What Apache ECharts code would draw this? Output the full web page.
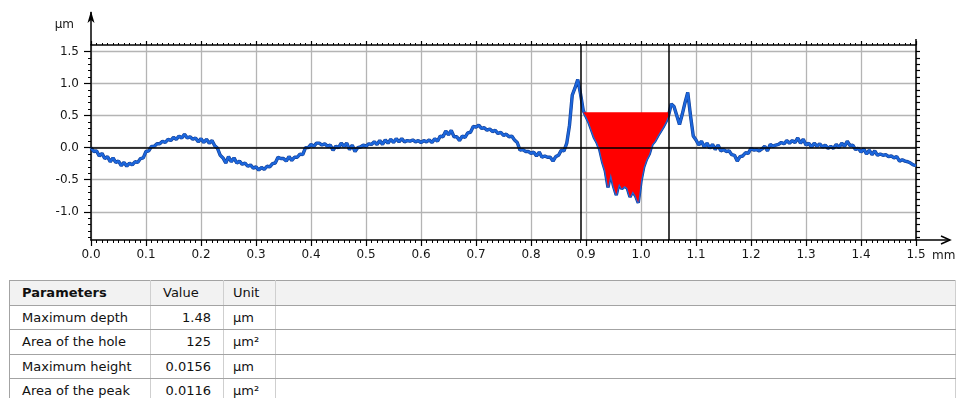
<!DOCTYPE html>
<html>
<head>
<meta charset="utf-8">
<script src="https://cdn.jsdelivr.net/npm/echarts@6/dist/echarts.min.js"></script>
<style>
  html, body { margin: 0; padding: 0; background: #fff; }
  body { width: 956px; height: 398px; overflow: hidden; position: relative; font-family: "DejaVu Sans", sans-serif; }
  #chart { position: absolute; left: 0; top: 0; width: 956px; height: 276px; }
  #params { position: absolute; left: 9px; top: 280px; width: 947px; border-collapse: collapse; table-layout: fixed; font-size: 13px; color: #111; }
  #params th, #params td { height: 23.5px; padding: 0; border-top: 1px solid #a3a3a3; border-bottom: 1px solid #a3a3a3; border-left: 1px solid #cfcfcf; border-right: 1px solid #cfcfcf; white-space: nowrap; }
  #params th { background: #f2f2f2; font-weight: normal; text-align: left; }
  #params th.name { font-weight: bold; padding-left: 12px; }
  #params th.val { padding-left: 12px; }
  #params th.unit { padding-left: 9px; }
  #params td.name { padding-left: 12px; }
  #params td.val { text-align: right; padding-right: 12px; }
  #params td.unit { padding-left: 9px; }
  #params tr > :first-child { border-left: 1px solid #a3a3a3; }
</style>
</head>
<body>
<div id="chart"></div>
<table id="params"><colgroup><col style="width:141px"><col style="width:73px"><col style="width:52px"><col></colgroup><thead></thead><tbody></tbody></table>
<script>
// Surface profile sampled every 5 µm along the trace (x in mm, height in µm)
const sampleStep = 0.005;
const depthProfile = [
  0.00, -0.06, -0.05, -0.13, -0.09, -0.17, -0.14, -0.22, -0.16, -0.23,
  -0.21, -0.28, -0.23, -0.29, -0.24, -0.27, -0.22, -0.23, -0.17, -0.16,
  -0.06, -0.05, 0.02, 0.02, 0.06, 0.06, 0.10, 0.08, 0.13, 0.11,
  0.16, 0.13, 0.18, 0.15, 0.21, 0.15, 0.17, 0.13, 0.15, 0.09,
  0.14, 0.08, 0.13, 0.07, 0.11, 0.03, -0.01, -0.12, -0.16, -0.24,
  -0.14, -0.22, -0.16, -0.24, -0.21, -0.26, -0.24, -0.29, -0.27, -0.32,
  -0.30, -0.35, -0.31, -0.34, -0.29, -0.30, -0.25, -0.24, -0.15, -0.17,
  -0.17, -0.21, -0.14, -0.20, -0.15, -0.15, -0.10, -0.11, 0.00, 0.00,
  0.05, 0.02, 0.07, 0.07, 0.04, 0.06, 0.02, 0.04, -0.04, 0.02,
  0.00, 0.07, 0.02, 0.07, -0.03, 0.04, -0.06, 0.00, 0.01, 0.04,
  0.02, 0.06, 0.05, 0.09, 0.05, 0.11, 0.05, 0.12, 0.07, 0.13,
  0.08, 0.14, 0.09, 0.14, 0.09, 0.11, 0.10, 0.12, 0.09, 0.11,
  0.08, 0.11, 0.09, 0.12, 0.08, 0.14, 0.10, 0.18, 0.17, 0.26,
  0.20, 0.27, 0.17, 0.17, 0.11, 0.18, 0.16, 0.23, 0.24, 0.33,
  0.32, 0.35, 0.30, 0.31, 0.27, 0.29, 0.25, 0.27, 0.22, 0.24,
  0.19, 0.21, 0.17, 0.18, 0.12, 0.08, -0.04, -0.03, -0.06, -0.06,
  -0.09, -0.07, -0.13, -0.07, -0.15, -0.13, -0.15, -0.15, -0.21, -0.14,
  -0.12, -0.04, -0.05, 0.07, 0.35, 0.82, 0.93, 1.06, 0.84, 0.58,
  0.49, 0.40, 0.28, 0.16, 0.08, -0.03, -0.22, -0.36, -0.62, -0.40,
  -0.60, -0.74, -0.56, -0.64, -0.60, -0.63, -0.77, -0.68, -0.75, -0.86,
  -0.52, -0.30, -0.18, -0.10, 0.05, 0.10, 0.18, 0.25, 0.32, 0.40,
  0.50, 0.68, 0.64, 0.50, 0.36, 0.52, 0.70, 0.86, 0.50, 0.18,
  0.12, 0.04, 0.10, 0.01, 0.07, -0.01, 0.05, -0.03, 0.04, -0.05,
  -0.03, -0.06, -0.05, -0.11, -0.12, -0.21, -0.14, -0.13, -0.08, -0.09,
  -0.01, -0.04, -0.03, -0.05, -0.02, 0.02, -0.05, 0.05, 0.02, 0.04,
  0.05, 0.08, 0.06, 0.11, 0.07, 0.11, 0.08, 0.15, 0.07, 0.13,
  0.04, 0.07, 0.01, 0.07, 0.02, 0.06, 0.01, 0.04, -0.01, 0.02,
  -0.01, 0.05, 0.00, 0.07, 0.02, 0.10, 0.03, 0.04, -0.03, -0.01,
  -0.07, -0.02, -0.10, -0.04, -0.11, -0.05, -0.12, -0.10, -0.12, -0.11,
  -0.14, -0.13, -0.16, -0.14, -0.21, -0.19, -0.21, -0.22, -0.24, -0.27,
  -0.28
];

// Axis ranges and tick values
const xRange = [0, 1.5];
const xTickStep = 0.1;
const yRange = [-1.44, 1.6];
const yLabelValues = [-1.0, -0.5, 0.0, 0.5, 1.0, 1.5];
const yMinorValues = [-1.4, -1.3, -1.2, -1.1, -1.0, -0.9, -0.8, -0.7, -0.6, -0.5, -0.4, -0.3, -0.2, -0.1, 0.0,
  0.1, 0.2, 0.3, 0.4, 0.5, 0.6, 0.7, 0.8, 0.9, 1.0, 1.1, 1.2, 1.3, 1.4, 1.5];

// Measurement cursors and the reference level that bounds the hole
const cursorPositions = [0.893, 1.051];
const holeLevel = 0.55;

// Parameters table
const paramHeaders = ['Parameters', 'Value', 'Unit', ''];
const paramNames = ['Maximum depth', 'Area of the hole', 'Maximum height', 'Area of the peak'];
const paramValues = ['1.48', '125', '0.0156', '0.0116'];
const paramUnits = ['µm', 'µm²', 'µm', 'µm²'];

const profilePoints = depthProfile.map((v, i) => [+(i * sampleStep).toFixed(3), v]);
const inHole = p => p[0] >= cursorPositions[0] && p[0] <= cursorPositions[1];
const holeBase = profilePoints.filter(inHole).map(p => [p[0], Math.min(p[1], holeLevel)]);

const fontFamily = '"DejaVu Sans", sans-serif';
const labelColor = '#161616';
const gridColor = '#b4b4b4';

const chart = echarts.init(document.getElementById('chart'), null, { renderer: 'canvas' });

chart.setOption({
  animation: false,
  backgroundColor: '#fff',
  grid: { left: 91, right: 40, top: 45, bottom: 36 },
  xAxis: [
    {
      type: 'value', position: 'bottom', min: xRange[0], max: xRange[1], interval: xTickStep,
      axisLine: { show: true, onZero: false, lineStyle: { color: '#000', width: 1.5 } },
      axisTick: { show: true, length: 6, lineStyle: { color: '#000', width: 1.2 } },
      minorTick: { show: true, splitNumber: 10, length: 3, lineStyle: { color: '#000', width: 1 } },
      axisLabel: { margin: 9, color: labelColor, fontFamily, fontSize: 12, formatter: v => v.toFixed(1) },
      splitLine: { show: true, lineStyle: { color: gridColor, width: 1.3 } }
    },
    {
      type: 'value', position: 'top', min: xRange[0], max: xRange[1], interval: xTickStep,
      axisLine: { show: true, onZero: false, lineStyle: { color: '#000', width: 1.5 } },
      axisTick: { show: true, length: 4, lineStyle: { color: '#000', width: 1.2 } },
      minorTick: { show: true, splitNumber: 10, length: 2, lineStyle: { color: '#000', width: 1 } },
      axisLabel: { show: false },
      splitLine: { show: false }
    }
  ],
  yAxis: [
    {
      type: 'value', position: 'left', min: yRange[0], max: yRange[1],
      axisLine: { show: true, onZero: false, lineStyle: { color: '#000', width: 1.5 } },
      axisTick: { show: true, length: 7, customValues: yLabelValues, lineStyle: { color: '#000', width: 1.2 } },
      axisLabel: { margin: 12, color: labelColor, fontFamily, fontSize: 12, customValues: yLabelValues, formatter: v => v.toFixed(1) },
      splitLine: { show: true, lineStyle: { color: gridColor, width: 1.3 } }
    },
    {
      type: 'value', position: 'right', min: yRange[0], max: yRange[1],
      axisLine: { show: true, onZero: false, lineStyle: { color: '#000', width: 1.5 } },
      axisTick: { show: true, length: 4, customValues: yMinorValues, lineStyle: { color: '#000', width: 1.2 } },
      axisLabel: { show: false },
      splitLine: { show: false }
    },
    {
      type: 'value', position: 'left', offset: 0, min: yRange[0], max: yRange[1],
      axisLine: { show: false },
      axisTick: { show: true, length: 3, customValues: yMinorValues, lineStyle: { color: '#000', width: 1 } },
      axisLabel: { show: false },
      splitLine: { show: false }
    }
  ],
  series: [
    {
      // dark rim under the trace
      name: 'profile rim', type: 'line', data: profilePoints, symbol: 'none', z: 2, silent: true,
      lineStyle: { color: '#123f95', width: 3.4 }
    },
    {
      name: 'profile', type: 'line', data: profilePoints, symbol: 'none', z: 3,
      lineStyle: { color: '#1c66dc', width: 2.2 },
      markLine: {
        silent: true, symbol: 'none', label: { show: false }, animation: false,
        lineStyle: { color: '#000', width: 1.5, type: 'solid' },
        data: [{ yAxis: 0 }].concat(cursorPositions.map(x => ({ xAxis: x })))
      }
    },
    {
      // Hole area: between the profile and the reference level, inside the cursors
      name: 'hole', type: 'custom', data: holeBase, z: 4, silent: true,
      encode: { x: 0, y: 1 },
      renderItem: (params, api) => {
        if (params.dataIndex !== 0) return null;
        const first = holeBase[0][0];
        const last = holeBase[holeBase.length - 1][0];
        const pts = holeBase.map(p => api.coord(p))
          .concat([api.coord([last, holeLevel]), api.coord([first, holeLevel])]);
        return { type: 'polygon', shape: { points: pts }, style: { fill: '#ff0000' } };
      }
    }
  ]
});

// Axis arrows and unit labels, placed from the axis scales
const corner = chart.convertToPixel({ seriesIndex: 0 }, [xRange[0], yRange[1]]);
const far = chart.convertToPixel({ seriesIndex: 0 }, [xRange[1], yRange[0]]);
const xL = corner[0], yT = corner[1], xR = far[0], yB = far[1];
chart.setOption({
  graphic: [
    { type: 'line', shape: { x1: xL, y1: yT, x2: xL, y2: yT - 33 }, style: { stroke: '#000', lineWidth: 1.5 } },
    { type: 'polygon', shape: { points: [[xL - 3.5, yT - 22], [xL, yT - 34], [xL + 3.5, yT - 22], [xL, yT - 25]] }, style: { fill: '#000' } },
    { type: 'line', shape: { x1: xR, y1: yB, x2: xR + 34, y2: yB }, style: { stroke: '#000', lineWidth: 1.5 } },
    { type: 'polyline', shape: { points: [[xR + 25, yB - 4], [xR + 34, yB], [xR + 25, yB + 4]] }, style: { stroke: '#000', lineWidth: 1.5, fill: null } },
    { type: 'line', shape: { x1: xR, y1: yT, x2: xR, y2: yT - 6 }, style: { stroke: '#000', lineWidth: 1.5 } },
    { type: 'text', x: xL - 17, y: yT - 20, style: { text: 'µm', fill: labelColor, font: '12px ' + fontFamily, align: 'right', verticalAlign: 'middle' } },
    { type: 'text', x: xR + 16, y: yB + 16, style: { text: 'mm', fill: labelColor, font: '12px ' + fontFamily, align: 'left', verticalAlign: 'middle' } }
  ]
});

// Parameters table
const table = document.getElementById('params');
const headRow = document.createElement('tr');
['name', 'val', 'unit', 'rest'].forEach((cls, i) => {
  const th = document.createElement('th');
  th.className = cls;
  th.textContent = paramHeaders[i];
  headRow.appendChild(th);
});
table.tHead.appendChild(headRow);
paramNames.forEach((name, r) => {
  const tr = document.createElement('tr');
  [[name, 'name'], [paramValues[r], 'val'], [paramUnits[r], 'unit'], ['', 'rest']].forEach(([text, cls]) => {
    const td = document.createElement('td');
    td.className = cls;
    td.textContent = text;
    tr.appendChild(td);
  });
  table.tBodies[0].appendChild(tr);
});
</script>
</body>
</html>
